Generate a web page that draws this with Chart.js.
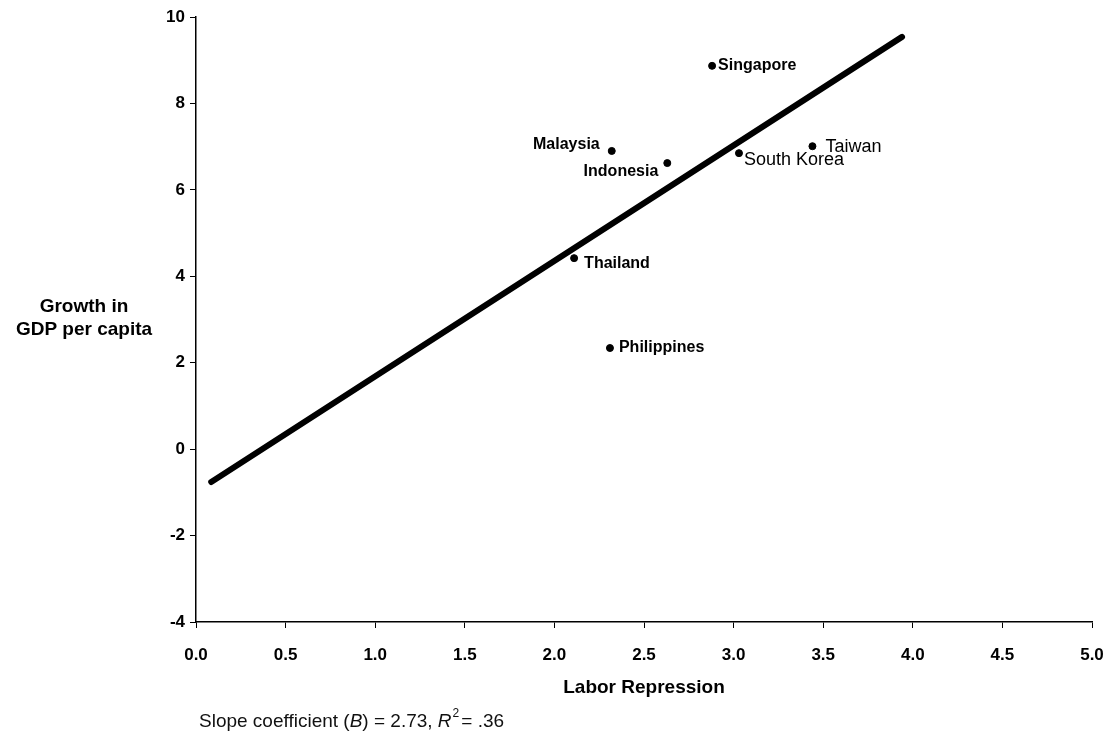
<!DOCTYPE html>
<html>
<head>
<meta charset="utf-8">
<script src="https://cdn.jsdelivr.net/npm/chart.js@4/dist/chart.umd.min.js"></script>
<style>
  html, body { margin: 0; padding: 0; background: #fff; }
  #wrap { width: 1113px; height: 734px; }
</style>
</head>
<body>
<div id="wrap"><canvas id="mainChart" width="1113" height="734"></canvas></div>
<script>
// countries and their values
const countries = ['Singapore', 'Malaysia', 'Indonesia', 'South Korea', 'Taiwan', 'Thailand', 'Philippines'];
const laborRepression = [2.88, 2.32, 2.63, 3.03, 3.44, 2.11, 2.31];
const gdpGrowth = [8.87, 6.90, 6.62, 6.85, 7.01, 4.42, 2.34];

// fitted line end points
const fitX = [0.085, 3.94];
const fitY = [-0.76, 9.54];

const xTicks = [0, 0.5, 1, 1.5, 2, 2.5, 3, 3.5, 4, 4.5, 5];
const yTicks = [-4, -2, 0, 2, 4, 6, 8, 10];

// label placement per country: align, dx, dy, font
const labelPos = {
  'Singapore': ['left', 6, 0, 'bold 16px'],
  'Malaysia': ['right', -12, -6, 'bold 16px'],
  'Indonesia': ['right', -9, 9, 'bold 16px'],
  'South Korea': ['left', 5, 7, '18px'],
  'Taiwan': ['left', 13, 1, '18px'],
  'Thailand': ['left', 10, 5, 'bold 16px'],
  'Philippines': ['left', 9, 0, 'bold 16px']
};

const FONT = 'Arial, "Liberation Sans", sans-serif';

const annotations = {
  id: 'annotations',
  afterDatasetsDraw(chart) {
    const c = chart.ctx;
    const x = chart.scales.x, y = chart.scales.y;
    c.save();
    c.fillStyle = '#000';
    c.textBaseline = 'middle';
    countries.forEach((name, i) => {
      const [align, dx, dy, font] = labelPos[name];
      c.font = font + ' ' + FONT;
      c.textAlign = align;
      c.fillText(name, x.getPixelForValue(laborRepression[i]) + dx, y.getPixelForValue(gdpGrowth[i]) + dy);
    });

    // y title, horizontal, left of axis
    c.font = 'bold 19px ' + FONT;
    c.textAlign = 'center';
    c.fillText('Growth in', 84, 307);
    c.fillText('GDP per capita', 84, 330);

    // x title
    c.fillText('Labor Repression', (chart.chartArea.left + chart.chartArea.right) / 2, 688);

    // footnote
    c.textAlign = 'left';
    c.fillStyle = '#111';
    let px = 199;
    const py = 722;
    const parts = [
      ['Slope coefficient (', '19px'],
      ['B', 'italic 19px'],
      [') = 2.73, ', '19px'],
      ['R', 'italic 19px'],
    ];
    parts.forEach(([t, f]) => {
      c.font = f + ' ' + FONT;
      c.fillText(t, px, py);
      px += c.measureText(t).width;
    });
    c.font = '12px ' + FONT;
    c.fillText('2', px + 1, py - 8);
    px += c.measureText('2').width + 1;
    c.font = '19px ' + FONT;
    c.fillText('= .36', px + 2, py);
    c.restore();
  }
};

const ctx = document.getElementById('mainChart').getContext('2d');

new Chart(ctx, {
  type: 'scatter',
  data: {
    datasets: [
      {
        label: 'Countries',
        data: laborRepression.map((v, i) => ({ x: v, y: gdpGrowth[i] })),
        backgroundColor: '#000',
        borderColor: '#000',
        pointRadius: 3.5,
        pointHoverRadius: 3.5
      },
      {
        label: 'Fit',
        type: 'line',
        data: fitX.map((v, i) => ({ x: v, y: fitY[i] })),
        borderColor: '#000',
        borderWidth: 6,
        borderCapStyle: 'round',
        pointRadius: 0,
        fill: false
      }
    ]
  },
  options: {
    responsive: false,
    animation: false,
    layout: { padding: { left: 0, right: 21, top: 17, bottom: 0 } },
    plugins: {
      legend: { display: false },
      tooltip: { enabled: false }
    },
    scales: {
      x: {
        type: 'linear',
        min: 0,
        max: 5,
        afterFit: s => { s.height = 112; s.paddingRight = 0; s.paddingLeft = 0; },
        afterBuildTicks: s => { s.ticks = xTicks.map(v => ({ value: v })); },
        border: { display: true, color: '#000', width: 1.5 },
        grid: { drawOnChartArea: false, drawTicks: true, tickLength: 6, color: '#000' },
        ticks: {
          color: '#000',
          padding: 17,
          maxRotation: 0,
          font: { family: FONT, size: 17, weight: 'bold' },
          callback: v => Number(v).toFixed(1)
        }
      },
      y: {
        type: 'linear',
        min: -4,
        max: 10,
        afterFit: s => { s.width = 196; s.paddingTop = 0; s.paddingBottom = 0; },
        afterBuildTicks: s => { s.ticks = yTicks.map(v => ({ value: v })); },
        border: { display: true, color: '#000', width: 1.5 },
        grid: { drawOnChartArea: false, drawTicks: true, tickLength: 6, color: '#000' },
        ticks: {
          color: '#000',
          padding: 5,
          font: { family: FONT, size: 17, weight: 'bold' }
        }
      }
    }
  },
  plugins: [annotations]
});
</script>
</body>
</html>
